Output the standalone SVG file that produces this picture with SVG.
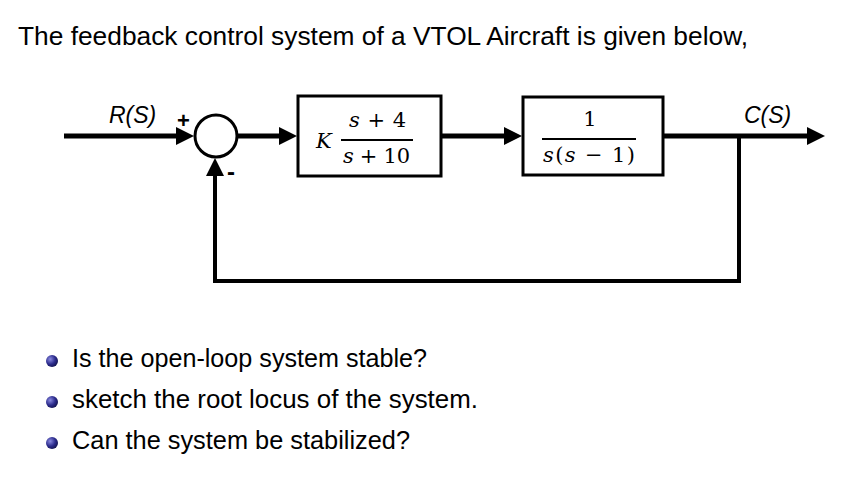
<svg xmlns="http://www.w3.org/2000/svg" width="851" height="477" viewBox="0 0 851 477">
<defs>
<style>
.txt{font-family:"Liberation Sans",Arial,sans-serif;fill:#000}
.sig{font-family:"Liberation Sans",Arial,sans-serif;font-style:italic;font-size:23px;fill:#000}
.math{font-family:"DejaVu Serif","Liberation Serif",serif;font-size:21px;fill:#000}
.mi{font-style:italic}
.box{fill:#fff;stroke:#000;stroke-width:3}
.main{fill:none;stroke:#000;stroke-width:5}
.fb{fill:none;stroke:#000;stroke-width:4}
.frac{stroke:#000;stroke-width:1.8}
</style>
<marker id="ah" markerUnits="userSpaceOnUse" markerWidth="18" markerHeight="18" refX="8" refY="9" orient="auto">
<path d="M0,0 L18,9 L0,18 z" fill="#000"/>
</marker>
<radialGradient id="ball" cx="0.35" cy="0.35" r="0.7">
<stop offset="0" stop-color="#8a8ae0"/>
<stop offset="0.6" stop-color="#2b2b8c"/>
<stop offset="1" stop-color="#141450"/>
</radialGradient>
</defs>
<text class="txt" x="18" y="45" font-size="26" textLength="730" lengthAdjust="spacingAndGlyphs">The feedback control system of a VTOL Aircraft is given below,</text>
<g id="connectors">
<line class="main" x1="64" y1="136" x2="184" y2="136" marker-end="url(#ah)"/>
<line class="main" x1="237" y1="136" x2="287" y2="136" marker-end="url(#ah)"/>
<line class="main" x1="441" y1="136" x2="512" y2="136" marker-end="url(#ah)"/>
<line class="main" x1="663" y1="136" x2="815" y2="136" marker-end="url(#ah)"/>
<polyline class="fb" points="739,136 739,281 215,281 215,168" marker-end="url(#ah)"/>
</g>
<g id="sum">
<circle cx="216" cy="136" r="21" fill="#fff" stroke="#000" stroke-width="3"/>
<text class="txt" x="177" y="128" font-size="22" font-weight="bold">+</text>
<text class="txt" x="227" y="180" font-size="24" font-weight="bold">-</text>
</g>
<g id="controller">
<rect class="box" x="298" y="96" width="143" height="80"/>
<text class="math mi" x="316" y="148" font-size="23">K</text>
<text class="math" x="349" y="127" textLength="57" lengthAdjust="spacing"><tspan class="mi">s</tspan> + 4</text>
<line class="frac" x1="341" y1="140" x2="413" y2="140"/>
<text class="math" x="343" y="163" textLength="67" lengthAdjust="spacing"><tspan class="mi">s</tspan> + 10</text>
</g>
<g id="plant">
<rect class="box" x="523" y="97" width="140" height="78"/>
<text class="math" x="590" y="126" text-anchor="middle">1</text>
<line class="frac" x1="542" y1="139" x2="636" y2="139"/>
<text class="math" x="543" y="162" textLength="92" lengthAdjust="spacing"><tspan class="mi">s</tspan>(<tspan class="mi">s</tspan> − 1)</text>
</g>
<g id="labels">
<text class="sig" x="109" y="123">R(S)</text>
<text class="sig" x="744" y="123">C(S)</text>
</g>
<g id="bullets">
<circle cx="52" cy="361" r="6" fill="url(#ball)"/>
<circle cx="52" cy="402" r="6" fill="url(#ball)"/>
<circle cx="52" cy="443" r="6" fill="url(#ball)"/>
<text class="txt" x="72" y="367" font-size="25" textLength="355" lengthAdjust="spacingAndGlyphs">Is the open-loop system stable?</text>
<text class="txt" x="72" y="408" font-size="25" textLength="406" lengthAdjust="spacingAndGlyphs">sketch the root locus of the system.</text>
<text class="txt" x="72" y="449" font-size="25" textLength="338" lengthAdjust="spacingAndGlyphs">Can the system be stabilized?</text>
</g>
</svg>
